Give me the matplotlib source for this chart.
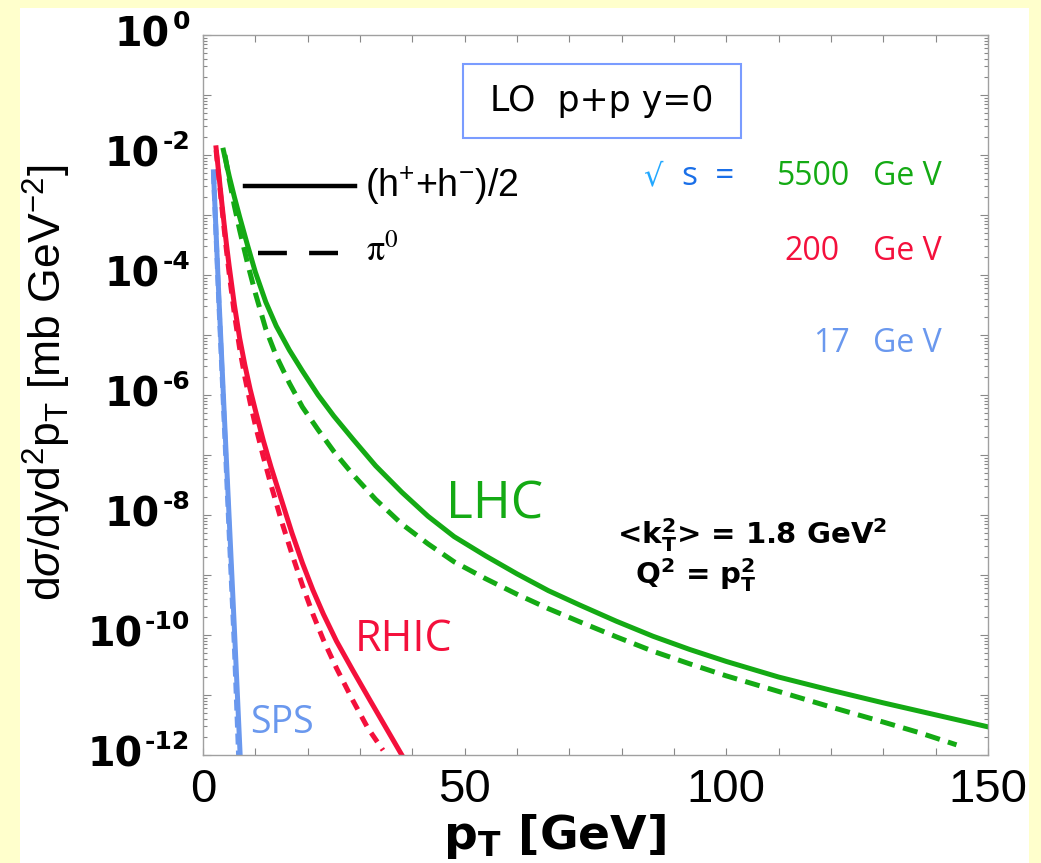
import numpy as np
import matplotlib
matplotlib.use("Agg")
import matplotlib.pyplot as plt
from matplotlib.patches import Rectangle
from matplotlib import font_manager as fm
from matplotlib.ticker import FixedLocator, NullFormatter
from matplotlib.transforms import blended_transform_factory, offset_copy

# ---------------- data (pT in GeV, log10 of cross section in mb GeV^-2) ----------------
lhc_h_pt = [3.9, 5, 6, 7, 8.5, 10, 12, 14, 16.5, 19, 22, 25, 28.7, 33, 38, 43, 48, 54, 60,
            66, 72, 79, 86, 93, 100, 110, 120, 130, 140, 150]
lhc_h_lg = [-1.92, -2.35, -2.7, -3.03, -3.5, -3.95, -4.45, -4.85, -5.25, -5.6, -6.0, -6.35,
            -6.74, -7.18, -7.62, -8.02, -8.36, -8.68, -8.98, -9.26, -9.5, -9.77, -10.02,
            -10.24, -10.44, -10.7, -10.92, -11.13, -11.33, -11.53]
lhc_pi_pt = [4.2, 5, 6, 7, 8.5, 10, 12, 14, 16.5, 19, 22, 25, 28.7, 33, 38, 43, 48, 54, 60,
             66, 72, 79, 86, 93, 100, 110, 120, 130, 137, 144]
lhc_pi_lg = [-2.0, -2.4, -2.85, -3.25, -3.8, -4.3, -4.9, -5.35, -5.8, -6.2, -6.58, -6.94,
             -7.33, -7.74, -8.15, -8.48, -8.78, -9.06, -9.32, -9.56, -9.78, -10.03, -10.27,
             -10.48, -10.68, -10.94, -11.2, -11.45, -11.63, -11.83]
rhic_h_pt = [2.5, 3.0, 3.5, 4.0, 4.5, 5.0, 6.0, 7.0, 8.0, 9.0, 10, 11.5, 13, 15, 17, 19, 21,
             23, 25.5, 28.7, 32, 35, 38]
rhic_h_lg = [-1.88, -2.3, -2.72, -3.12, -3.5, -3.85, -4.5, -5.05, -5.5, -5.9, -6.25, -6.75,
             -7.2, -7.75, -8.3, -8.8, -9.25, -9.65, -10.1, -10.6, -11.1, -11.55, -12.0]
rhic_pi_pt = [2.5, 3.0, 3.5, 4.0, 4.5, 5.0, 6.0, 7.0, 8.0, 9.0, 10, 11.5, 13, 15, 17, 19, 21,
              23, 25.5, 28.7, 31.5, 34.4]
rhic_pi_lg = [-1.92, -2.35, -2.78, -3.2, -3.6, -3.97, -4.65, -5.22, -5.7, -6.12, -6.5, -7.02,
              -7.5, -8.1, -8.65, -9.17, -9.65, -10.08, -10.55, -11.1, -11.55, -11.92]
sps_h_pt = [2.0, 3.0, 4.0, 5.0, 6.0, 7.1]
sps_h_lg = [-2.28, -4.3, -6.2, -8.05, -9.9, -12.0]
sps_pi_pt = [2.0, 3.0, 4.0, 5.0, 6.0, 6.8]
sps_pi_lg = [-2.3, -4.4, -6.35, -8.3, -10.2, -12.0]

x_ticks = [0, 50, 100, 150]
y_exponents = list(range(-12, 1))
y_label_exponents = [0, -2, -4, -6, -8, -10, -12]

GREEN = '#14aa14'
RED = '#f4103c'
BLUE = '#6a98ee'

# ---------------- fonts ----------------
def has_font(name):
    try:
        fm.findfont(fm.FontProperties(family=name), fallback_to_default=False)
        return True
    except Exception:
        return False

NARROW = 'Liberation Sans Narrow' if has_font('Liberation Sans Narrow') else 'Liberation Sans'
plt.rcParams['mathtext.fontset'] = 'custom'
plt.rcParams['mathtext.rm'] = 'Liberation Sans'
plt.rcParams['mathtext.it'] = 'Liberation Sans:italic'
plt.rcParams['mathtext.bf'] = 'Liberation Sans:bold'
plt.rcParams['font.family'] = ['Liberation Sans', 'DejaVu Sans']

fig = plt.figure(figsize=(10.41, 8.63), dpi=100)
fig.patch.set_facecolor('#FFFFCC')
fig.add_artist(Rectangle((0.0192, 0.0), 0.9693, 0.9907, transform=fig.transFigure,
                         facecolor='white', edgecolor='none', zorder=0))

ax = fig.add_axes([0.195, 0.1251, 0.754, 0.8343])
ax.set_zorder(2)
ax.set_yscale('log')
ax.set_xlim(0, 150)
ax.set_ylim(1e-12, 1)

def v(lg):
    return 10.0 ** np.asarray(lg)

lw = 3.6
ax.plot(sps_pi_pt, v(sps_pi_lg), color=BLUE, lw=lw, ls=(0, (2.2, 1.2)))
ax.plot(sps_h_pt, v(sps_h_lg), color=BLUE, lw=lw)
ax.plot(rhic_pi_pt, v(rhic_pi_lg), color=RED, lw=lw, ls=(0, (2.2, 1.6)))
ax.plot(rhic_h_pt, v(rhic_h_lg), color=RED, lw=lw)
ax.plot(lhc_pi_pt, v(lhc_pi_lg), color=GREEN, lw=lw, ls=(0, (3.0, 1.7)))
ax.plot(lhc_h_pt, v(lhc_h_lg), color=GREEN, lw=lw)

# ---------------- axes styling ----------------
for s in ax.spines.values():
    s.set_color('#a0a0a0')
    s.set_linewidth(1.0)

ax.xaxis.set_major_locator(FixedLocator(x_ticks))
ax.xaxis.set_minor_locator(FixedLocator(list(range(0, 151, 10))))
ax.set_xticklabels([str(t) for t in x_ticks], fontsize=34, family=NARROW)
ax.yaxis.set_major_locator(FixedLocator([10.0 ** e for e in y_exponents]))
ax.yaxis.set_minor_locator(FixedLocator([m * 10.0 ** e for e in y_exponents[:-1] for m in range(2, 10)]))
ax.yaxis.set_major_formatter(NullFormatter())
ax.yaxis.set_minor_formatter(NullFormatter())
ax.tick_params(axis='both', which='both', direction='in', top=True, right=True,
               color='#888888', width=0.8)
ax.tick_params(axis='x', which='both', length=5, pad=9)
ax.tick_params(axis='y', which='major', length=6)
ax.tick_params(axis='y', which='minor', length=3)

# y tick labels: bold "10" with a raised exponent, right-aligned left of the axis
renderer = fig.canvas.get_renderer()
ytrans = blended_transform_factory(ax.transAxes, ax.transData)
sup_trans = offset_copy(ytrans, fig=fig, y=9.5, units='points')
for e in y_label_exponents:
    sup = ax.text(-0.0166, 10.0 ** e, str(e), transform=sup_trans, ha='right', va='center',
                  fontsize=18, fontweight='bold', family='DejaVu Sans', clip_on=False)
    bb = sup.get_window_extent(renderer)
    xl = ax.transAxes.inverted().transform((bb.x0, 0))[0]
    ax.text(xl - 0.003, 10.0 ** e, '10', transform=ytrans, ha='right', va='center',
            fontsize=28.5, fontweight='bold', family='DejaVu Sans', clip_on=False)

fig.text(0.533, 0.031, r'$\mathbf{p_{T}}$ [GeV]', fontsize=34, fontweight='bold',
         family='DejaVu Sans', math_fontfamily='dejavusans', ha='center', va='center')
fig.text(0.045, 0.556, r'd$\sigma$/dyd$^{2}$p$_{\mathrm{T}}$ [mb GeV$^{-2}$]', fontsize=32,
         family=NARROW, rotation=90, ha='center', va='center')

# ---------------- annotations ----------------
T = ax.transAxes
ax.add_patch(Rectangle((0.331, 0.857), 0.354, 0.103, transform=T, facecolor='white',
                       edgecolor='#7a9cff', lw=1.5, zorder=5))
ax.text(0.508, 0.908, 'LO  p+p y=0', transform=T, fontsize=25, family='DejaVu Sans',
        ha='center', va='center', zorder=6)

ax.plot([0.0535, 0.1936], [0.790, 0.790], transform=T, color='black', lw=3.2)
ax.plot([0.070, 0.196], [0.697, 0.697], transform=T, color='black', lw=3.2,
        ls=(0, (6.5, 5.0)))
ax.text(0.207, 0.790, r'(h$^{+}$+h$^{-}$)/2', transform=T, fontsize=27, ha='left', va='center')
ax.text(0.208, 0.700, r'$\mathrm{\pi}^{0}$', transform=T, fontsize=26, math_fontfamily='stix',
        ha='left', va='center')

SF = ['Open Sans', 'DejaVu Sans']
ax.text(0.5605, 0.803, '√', transform=T, fontsize=22, family='DejaVu Sans', color='#22a8ff',
        ha='left', va='center')
ax.text(0.610, 0.803, 's  =', transform=T, fontsize=24, family=SF, color='#1a6fe8',
        ha='left', va='center')
ax.text(0.824, 0.803, '5500', transform=T, fontsize=23, family=SF, color=GREEN, ha='right', va='center')
ax.text(0.9414, 0.803, 'Ge V', transform=T, fontsize=23, family=SF, color=GREEN, ha='right', va='center')
ax.text(0.811, 0.699, '200', transform=T, fontsize=23, family=SF, color=RED, ha='right', va='center')
ax.text(0.9414, 0.699, 'Ge V', transform=T, fontsize=23, family=SF, color=RED, ha='right', va='center')
ax.text(0.824, 0.572, '17', transform=T, fontsize=23, family=SF, color=BLUE, ha='right', va='center')
ax.text(0.9414, 0.572, 'Ge V', transform=T, fontsize=23, family=SF, color=BLUE, ha='right', va='center')

ax.text(0.310, 0.347, 'LHC', transform=T, fontsize=37, family=SF, color=GREEN, ha='left', va='center')
ax.text(0.1936, 0.160, 'RHIC', transform=T, fontsize=31, family=SF, color=RED, ha='left', va='center')
ax.text(0.060, 0.044, 'SPS', transform=T, fontsize=27, family=SF, color=BLUE, ha='left', va='center')

ax.text(0.527, 0.306, r'<k$_{\mathbf{T}}^{\mathbf{2}}$> = 1.8 GeV$^{\mathbf{2}}$', transform=T,
        fontsize=21, fontweight='bold', family='DejaVu Sans', math_fontfamily='dejavusans',
        ha='left', va='center')
ax.text(0.550, 0.250, r'Q$^{\mathbf{2}}$ = p$_{\mathbf{T}}^{\mathbf{2}}$', transform=T,
        fontsize=21, fontweight='bold', family='DejaVu Sans', math_fontfamily='dejavusans',
        ha='left', va='center')

fig.savefig('out.png', dpi=100, facecolor=fig.get_facecolor())
